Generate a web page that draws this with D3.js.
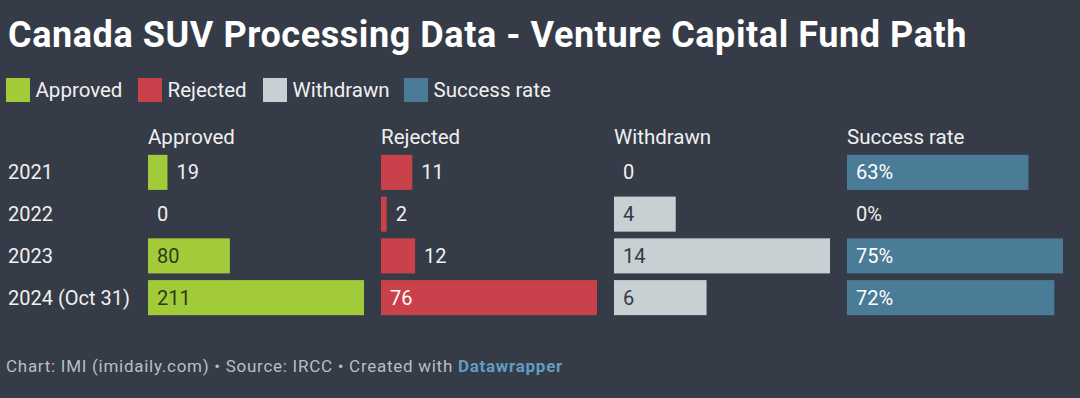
<!DOCTYPE html>
<html><head><meta charset="utf-8">
<script src="https://cdn.jsdelivr.net/npm/d3@7"></script>
<style>
html,body{margin:0;padding:0;background:#353b47;}
svg{display:block;font-family:Roboto,"Noto Sans",sans-serif;}
</style></head>
<body>
<svg id="chart" width="1080" height="398"></svg>
<script>
const years = ["2021", "2022", "2023", "2024 (Oct 31)"];
const approved = [19, 0, 80, 211];
const rejected = [11, 2, 12, 76];
const withdrawn = [0, 4, 14, 6];
const successRate = [63, 0, 75, 72];
const seriesNames = ["Approved", "Rejected", "Withdrawn", "Success rate"];
const seriesColors = ["#a2cb3a", "#c9414b", "#c7d0d3", "#4a7b97"];
const insideTextColors = ["#2f3a1c", "#ffffff", "#333a40", "#ffffff"];
const seriesData = [approved, rejected, withdrawn, successRate];
const fmt = [d => d, d => d, d => d, d => d + "%"];

const svg = d3.select("#chart");
const W = 1080, H = 398;
svg.append("rect").attr("width", W).attr("height", H).attr("fill", "#353b47");

function fitWidth(sel, target) {
  const node = sel.node();
  const len = node.getComputedTextLength();
  const n = node.textContent.length;
  sel.attr("letter-spacing", ((target - len) / n).toFixed(3));
}

// Title
const title = svg.append("text").attr("x", 8).attr("y", 47)
  .attr("fill", "#ffffff").attr("font-weight", 700).attr("font-size", 36)
  .text("Canada SUV Processing Data - Venture Capital Fund Path");
fitWidth(title, 959);

// Legend
const legX = [6, 138, 263, 404];
const leg = svg.append("g");
seriesNames.forEach((n, i) => {
  leg.append("rect").attr("x", legX[i]).attr("y", 78).attr("width", 24).attr("height", 24).attr("fill", seriesColors[i]);
  const t = leg.append("text").attr("x", legX[i] + 29.5).attr("y", 97).attr("fill", "#f0f0f0")
    .attr("font-size", 20.5).text(n);
});

// Rows
const y = d3.scaleBand().domain(years).range([154, 316]).paddingInner(0.16).paddingOuter(0.02);
const colX = d3.scaleBand().domain(seriesNames).range([148, 1080]).paddingInner(0);
const colW = 216;

svg.append("g").selectAll("text").data(years).join("text")
  .attr("x", 8).attr("y", d => y(d) + y.bandwidth() / 2).attr("dy", "0.35em")
  .attr("fill", "#f0f0f0").attr("font-size", 20).text(d => d);

seriesNames.forEach((name, i) => {
  const data = seriesData[i];
  const x0 = colX(name);
  const x = d3.scaleLinear().domain([0, d3.max(data)]).range([0, colW]);
  const g = svg.append("g").attr("transform", `translate(${x0},0)`);
  g.append("text").attr("x", 0).attr("y", 144).attr("fill", "#f0f0f0").attr("font-size", 20.5).text(name);
  g.selectAll("rect").data(data).join("rect")
    .attr("x", 0).attr("y", (d, j) => y(years[j]))
    .attr("width", d => x(d)).attr("height", y.bandwidth())
    .attr("fill", seriesColors[i]);
  g.selectAll("text.val").data(data).join("text").attr("class", "val")
    .attr("x", d => x(d) > 55 ? 9 : x(d) + 9)
    .attr("y", (d, j) => y(years[j]) + y.bandwidth() / 2).attr("dy", "0.35em")
    .attr("fill", d => x(d) > 55 ? insideTextColors[i] : "#f0f0f0")
    .attr("font-size", 20).text(d => fmt[i](d));
});

// Footer
const foot = svg.append("text").attr("x", 6).attr("y", 372).attr("font-size", 17).attr("fill", "#b8bfc6");
foot.append("tspan").text("Chart: IMI (imidaily.com) • Source: IRCC • Created with ");
foot.append("tspan").attr("fill", "#5f9ec2").attr("font-weight", 700).text("Datawrapper");
fitWidth(foot, 557);
</script>
</body></html>
